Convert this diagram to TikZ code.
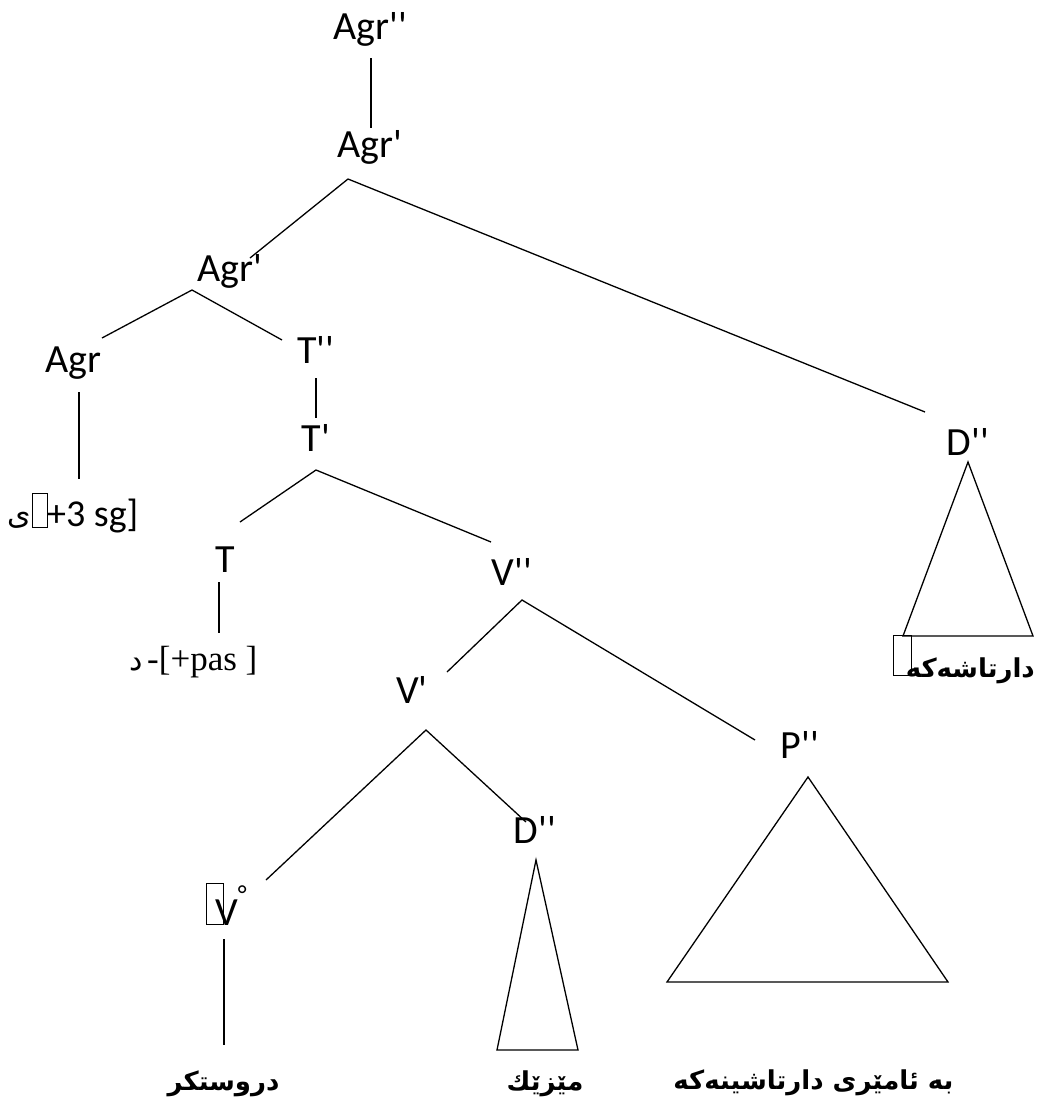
\documentclass[tikz,border=0pt]{standalone}
\usepackage{fontspec}
\newfontfamily\lbl{Carlito}
\newfontfamily\arab[Script=Arabic]{DejaVu Sans}
\newfontfamily\tnr{Liberation Serif}
\TeXXeTstate=1
\newcommand\prm{\textquotesingle}
\begin{document}
\begin{tikzpicture}[x=1pt,y=-1pt,
  lab/.style={font=\lbl\fontsize{40}{40}\selectfont, inner sep=0, anchor=base},
  leaf/.style={font=\lbl\fontsize{38}{38}\selectfont, inner sep=0, anchor=base west},
  ar/.style={font=\arab\bfseries\fontsize{26}{26}\selectfont, inner sep=0},
  arplain/.style={font=\arab\fontsize{30}{30}\selectfont, inner sep=0, anchor=base east},
  edge/.style={line width=1.3pt},
  tofu/.style={draw, line width=0.9pt, inner sep=0}]
\path[use as bounding box, fill=white] (0,0) rectangle (1038,1106);
% labels
\node[lab] (agrpp) at (370,39) {Agr\prm\prm};
\node[lab] (agrp1) at (370,157) {Agr\prm};
\node[lab] (agrp2) at (230,281) {Agr\prm};
\node[lab] (agr) at (73,372) {Agr};
\node[lab] (tpp) at (316,363) {T\prm\prm};
\node[lab] (tp) at (316,451) {T\prm};
\node[lab] (t) at (225,572) {T};
\node[lab] (vpp) at (512,585) {V\prm\prm};
\node[lab] (vp) at (412,703) {V\prm};
\node[lab, anchor=base west] (v0) at (215,925) {V\raisebox{22pt}{\fontsize{26}{26}\selectfont °}};
\node[lab] (dppl) at (535,843) {D\prm\prm};
\node[lab] (ppp) at (800,758) {P\prm\prm};
\node[lab] (dppr) at (968,455) {D\prm\prm};
% leaf texts
\node[arplain] (yeh) at (31,524) {\beginR ی\endR};
\node[tofu, minimum width=15pt, minimum height=34pt] (tofu1) at (39.5,510) {};
\node[leaf] (sg) at (47,526) {+3 sg]};
\node[arplain] (dal) at (143,670) {\beginR د\endR};
\node[font=\tnr\fontsize{35}{35}\selectfont, inner sep=0, anchor=base west] (pas) at (147,670) {-[+pas ]};
\node[tofu, minimum width=17pt, minimum height=41pt] (tofu2) at (214.5,903.5) {};
\node[tofu, minimum width=18pt, minimum height=40pt] (tofu3) at (902,655) {};
\node[ar] (w1) at (223.5,1084) {\beginR دروستکر\endR};
\node[ar] (w2) at (545,1084) {\beginR مێزێك\endR};
\node[ar] (w3) at (813.5,1083) {\beginR به ئامێری دارتاشینەکە\endR};
\node[ar, anchor=east] (w4) at (1035,671) {\beginR دارتاشەکە\endR};
% connector ends
\coordinate (c1a) at (371,58);  \coordinate (c1b) at (371,128);
\coordinate (ap1) at (348,179);
\coordinate (e1) at (250,258);  \coordinate (e2) at (925,412);
\coordinate (ap2) at (192,290);
\coordinate (e3) at (102,338);  \coordinate (e4) at (282,340);
\coordinate (c2a) at (79,392);  \coordinate (c2b) at (79,479);
\coordinate (c3a) at (316,378); \coordinate (c3b) at (316,418);
\coordinate (ap3) at (316,470);
\coordinate (e5) at (240,522);  \coordinate (e6) at (491,542);
\coordinate (c4a) at (219,582); \coordinate (c4b) at (219,633);
\coordinate (ap4) at (522,600);
\coordinate (e7) at (447,672);  \coordinate (e8) at (755,740);
\coordinate (ap5) at (426,730);
\coordinate (e9) at (266,880);  \coordinate (e10) at (526,822);
\coordinate (c5a) at (224,939); \coordinate (c5b) at (224,1045);
% triangles
\coordinate (tr1a) at (968,462); \coordinate (tr1b) at (903,636); \coordinate (tr1c) at (1033,636);
\coordinate (tr2a) at (808,777); \coordinate (tr2b) at (667,982); \coordinate (tr2c) at (948,982);
\coordinate (tr3a) at (536,860); \coordinate (tr3b) at (497,1050); \coordinate (tr3c) at (578,1050);
\draw[edge] (c1a) -- (c1b);
\draw[edge] (e1) -- (ap1) -- (e2);
\draw[edge] (e3) -- (ap2) -- (e4);
\draw[edge] (c2a) -- (c2b);
\draw[edge] (c3a) -- (c3b);
\draw[edge] (e5) -- (ap3) -- (e6);
\draw[edge] (c4a) -- (c4b);
\draw[edge] (e7) -- (ap4) -- (e8);
\draw[edge] (e9) -- (ap5) -- (e10);
\draw[edge] (c5a) -- (c5b);
\draw[edge] (tr1a) -- (tr1b) -- (tr1c) -- cycle;
\draw[edge] (tr2a) -- (tr2b) -- (tr2c) -- cycle;
\draw[edge] (tr3a) -- (tr3b) -- (tr3c) -- cycle;
\end{tikzpicture}
\end{document}
